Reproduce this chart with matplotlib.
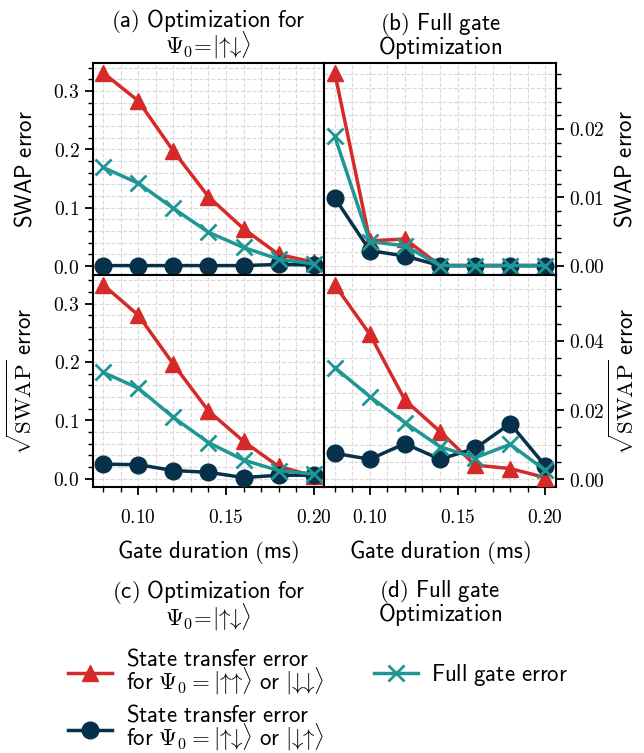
import matplotlib
matplotlib.use("Agg")
import matplotlib.pyplot as plt
from matplotlib.ticker import AutoMinorLocator, FormatStrFormatter
from matplotlib.lines import Line2D

plt.rcParams['mathtext.fontset'] = 'cm'

# gate durations (ms)
durations = [0.08, 0.10, 0.12, 0.14, 0.16, 0.18, 0.20]

# SWAP, optimization for |ud>
swap_a_uu = [0.331, 0.283, 0.197, 0.119, 0.064, 0.020, 0.007]
swap_a_ud = [0.001, 0.001, 0.001, 0.001, 0.001, 0.003, 0.002]
swap_a_full = [0.169, 0.142, 0.099, 0.058, 0.032, 0.012, 0.004]

# SWAP, full gate optimization
swap_b_uu = [0.0282, 0.0036, 0.0039, 0.0, 0.0, 0.0, 0.0]
swap_b_ud = [0.0099, 0.0022, 0.0014, 0.0, 0.0, 0.0, 0.0]
swap_b_full = [0.0189, 0.0035, 0.0029, 0.0, 0.0, 0.0, 0.0]

# sqrt(SWAP), optimization for |ud>
sqswap_c_uu = [0.332, 0.280, 0.196, 0.116, 0.064, 0.021, 0.005]
sqswap_c_ud = [0.025, 0.024, 0.014, 0.011, 0.002, 0.006, 0.006]
sqswap_c_full = [0.182, 0.155, 0.105, 0.062, 0.032, 0.014, 0.008]

# sqrt(SWAP), full gate optimization
sqswap_d_uu = [0.0562, 0.0419, 0.0229, 0.0138, 0.0041, 0.0031, 0.0005]
sqswap_d_ud = [0.0075, 0.0058, 0.0103, 0.0058, 0.0089, 0.0161, 0.0039]
sqswap_d_full = [0.0323, 0.0239, 0.0164, 0.0094, 0.0062, 0.0101, 0.0026]

RED = '#d62a2a'
NAVY = '#07314a'
TEAL = '#1e9694'
FS = 16.5
TFS = 14


def sf(s):
    return r'$\mathsf{' + s.replace(' ', r'\ ') + '}$'


def ket(a, b):
    # arrows get relation spacing in mathtext, pull them together
    return (r'|\hspace{-0.22}{' + a + r'}\hspace{-0.4}{' + b
            + r'}\hspace{-0.22}\rangle')


UP, DN = r'\uparrow', r'\downarrow'

title_opt = sf('(a) Optimization for') + '\n' + r'$\Psi_0\!=\!' + ket(UP, DN) + '$'
title_full = sf('(b) Full gate') + '\n' + sf('Optimization')

fig, axes = plt.subplots(2, 2, figsize=(6.44, 7.53), dpi=100)
fig.subplots_adjust(left=0.144, right=0.863, top=0.916, bottom=0.353,
                    wspace=0, hspace=0)

panels = [
    (axes[0, 0], swap_a_uu, swap_a_ud, swap_a_full, '$%.1f$'),
    (axes[0, 1], swap_b_uu, swap_b_ud, swap_b_full, '$%.2f$'),
    (axes[1, 0], sqswap_c_uu, sqswap_c_ud, sqswap_c_full, '$%.1f$'),
    (axes[1, 1], sqswap_d_uu, sqswap_d_ud, sqswap_d_full, '$%.2f$'),
]

for ax, uu, ud, full, fmt in panels:
    ax.plot(durations, uu, color=RED, lw=2.5, marker='^', ms=12, zorder=3)
    ax.plot(durations, full, color=TEAL, lw=2.5, marker='x', ms=12, mew=2, zorder=4)
    ax.plot(durations, ud, color=NAVY, lw=2.5, marker='o', ms=12, zorder=3)
    ax.xaxis.set_minor_locator(AutoMinorLocator())
    ax.yaxis.set_minor_locator(AutoMinorLocator())
    ax.grid(True, which='both', ls='--', lw=0.8, color='#d9d9d9', zorder=0)
    ax.set_axisbelow(True)
    ax.yaxis.set_major_formatter(FormatStrFormatter(fmt))
    ax.xaxis.set_major_formatter(FormatStrFormatter('$%.2f$'))
    ax.tick_params(which='major', length=6, width=1.3, labelsize=TFS)
    ax.tick_params(which='minor', length=3.5, width=1.0)
    ax.tick_params(axis='x', which='major', pad=9)
    ax.tick_params(which='both', top=False)
    for sp in ax.spines.values():
        sp.set_linewidth(1.5)

for ax in axes[:, 1]:
    ax.yaxis.tick_right()
    ax.yaxis.set_label_position('right')
    ax.tick_params(which='both', left=False)
for ax in axes[:, 0]:
    ax.tick_params(which='both', right=False)
for ax in axes[0, :]:
    ax.tick_params(which='both', bottom=False, labelbottom=False)

axes[0, 0].set_title(title_opt, fontsize=FS, linespacing=0.8, pad=7)
axes[0, 1].set_title(title_full, fontsize=FS, linespacing=0.8, pad=7)
axes[0, 0].set_ylabel(sf('SWAP error'), fontsize=FS, labelpad=12)
axes[0, 1].set_ylabel(sf('SWAP error'), fontsize=FS, labelpad=6)
sq_label = r'$\sqrt{\mathrm{SWAP}}\ \mathsf{error}$'
axes[1, 0].set_ylabel(sq_label, fontsize=FS, labelpad=12)
axes[1, 1].set_ylabel(sq_label, fontsize=FS, labelpad=3)
for ax in axes[1, :]:
    ax.set_xlabel(sf('Gate duration (ms)'), fontsize=FS, labelpad=8)

fig.text(0.3238, 0.232, title_opt.replace('(a)', '(c)'), ha='center', va='top',
         fontsize=FS, linespacing=0.8)
fig.text(0.6832, 0.232, title_full.replace('(b)', '(d)'), ha='center', va='top',
         fontsize=FS, linespacing=0.8)

handles = [
    Line2D([], [], color=RED, lw=2.5, marker='^', ms=12),
    Line2D([], [], color=NAVY, lw=2.5, marker='o', ms=12),
    Line2D([], [], color=TEAL, lw=2.5, marker='x', ms=12, mew=2),
]
labels = [
    sf('State transfer error') + '\n' + r'$\mathsf{for}\ \Psi_0 = ' + ket(UP, UP)
    + r'\ \mathsf{or}\ ' + ket(DN, DN) + '$',
    sf('State transfer error') + '\n' + r'$\mathsf{for}\ \Psi_0 = ' + ket(UP, DN)
    + r'\ \mathsf{or}\ ' + ket(DN, UP) + '$',
    sf('Full gate error'),
]
leg = fig.legend(handles, labels, loc='upper left', bbox_to_anchor=(0.092, 0.152),
                 ncol=2, frameon=False, fontsize=FS, handlelength=1.9,
                 handletextpad=0.6, columnspacing=2.2, labelspacing=0.3,
                 borderaxespad=0)
for t in leg.get_texts():
    t.set_linespacing(0.8)

fig.savefig('out.png', dpi=100)
